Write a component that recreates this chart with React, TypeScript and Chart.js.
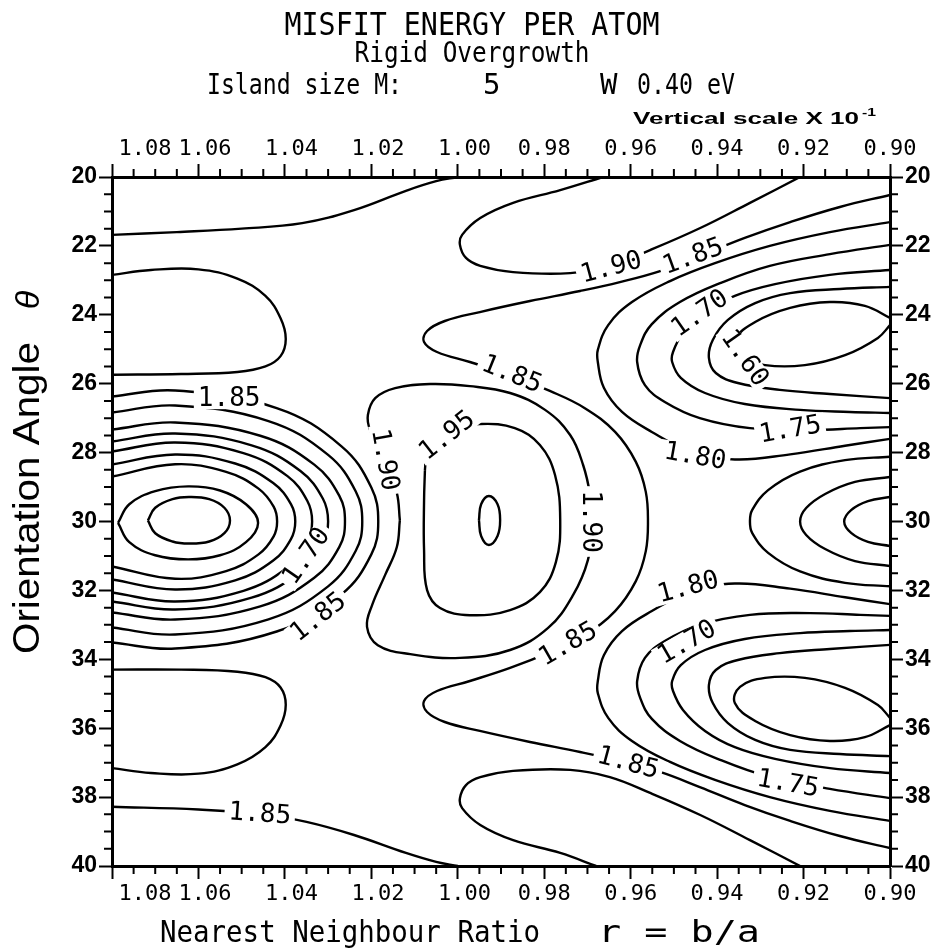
import React, { useEffect, useRef } from "react";
import { Chart, registerables } from "chart.js";

Chart.register(...registerables);

type P = [number, number];

// ---------- axes ----------
const X_TICKS = [0.9, 0.92, 0.94, 0.96, 0.98, 1.0, 1.02, 1.04, 1.06, 1.08];
const Y_TICKS = [20, 22, 24, 26, 28, 30, 32, 34, 36, 38, 40];
const X_MIN = 0.9;
const X_MAX = 1.08;
const Y_MIN = 20;
const Y_MAX = 40;
const X_MINOR = 0.005;
const Y_MINOR = 0.5;

// ---------- contour lines (x = r, y = theta) ----------
const TOP_LEFT_LINE: P[] = [[1.08, 21.68], [1.065, 21.6], [1.05, 21.5], [1.036, 21.34], [1.024, 20.96], [1.012, 20.4], [1.005, 20.12], [1.0, 20.0]];
const BOTTOM_LEFT_LINE: P[] = [[1.08, 38.28], [1.06, 38.36], [1.045, 38.5], [1.035, 38.72], [1.024, 39.1], [1.012, 39.62], [1.005, 39.88], [1.0, 40.0]];
const UPPER_LEFT_U: P[] = [[1.08, 22.84], [1.071, 22.7], [1.06, 22.68], [1.051, 22.95], [1.0445, 23.45], [1.041, 24.1], [1.0398, 24.7], [1.041, 25.2], [1.0445, 25.5], [1.051, 25.66], [1.064, 25.72], [1.08, 25.74]];
const LOWER_LEFT_U: P[] = [[1.08, 34.3], [1.064, 34.3], [1.051, 34.36], [1.0445, 34.52], [1.041, 34.82], [1.0398, 35.32], [1.041, 35.92], [1.0445, 36.55], [1.051, 37.05], [1.06, 37.32], [1.071, 37.3], [1.08, 37.16]];

const LEFT_R1: P[] = [[1.0717, 29.97], [1.07, 29.6], [1.066, 29.35], [1.0622, 29.29], [1.0575, 29.35], [1.054, 29.6], [1.0527, 29.97], [1.054, 30.34], [1.0575, 30.58], [1.0622, 30.64], [1.066, 30.58], [1.07, 30.34], [1.0717, 29.97]];
const LEFT_R2: P[] = [[1.0786, 30.04], [1.076, 29.5], [1.07, 29.12], [1.0624, 28.98], [1.055, 29.1], [1.049, 29.5], [1.0462, 30.04], [1.049, 30.6], [1.055, 30.98], [1.0624, 31.1], [1.07, 30.98], [1.076, 30.6], [1.0786, 30.04]];
const LEFT_R3: P[] = [[1.08, 28.694], [1.0654, 28.337], [1.0536, 28.56], [1.0461, 29.045], [1.0426, 29.569], [1.0418, 30.0], [1.0426, 30.431], [1.0461, 30.955], [1.0536, 31.44], [1.0654, 31.663], [1.08, 31.306]];
const LEFT_R4: P[] = [[1.08, 28.345], [1.0654, 28.055], [1.0515, 28.316], [1.0427, 28.884], [1.0386, 29.496], [1.0376, 30.0], [1.0386, 30.511], [1.0427, 31.133], [1.0515, 31.709], [1.0654, 31.974], [1.08, 31.684]];
const LEFT_R5: P[] = [[1.08, 27.968], [1.0654, 27.707], [1.0496, 28.014], [1.0394, 28.684], [1.0348, 29.406], [1.0337, 30.0], [1.0348, 30.601], [1.0394, 31.333], [1.0496, 32.011], [1.0654, 32.322], [1.08, 32.061]];
const LEFT_R6: P[] = [[1.08, 27.678], [1.0654, 27.446], [1.0477, 27.788], [1.0364, 28.534], [1.0312, 29.339], [1.03, 30.0], [1.0312, 30.661], [1.0364, 31.466], [1.0477, 32.212], [1.0654, 32.554], [1.08, 32.322]];
const LEFT_R7: P[] = [[1.08, 27.329], [1.0654, 27.126], [1.0457, 27.511], [1.0332, 28.35], [1.0274, 29.256], [1.0261, 30.0], [1.0274, 30.737], [1.0332, 31.633], [1.0457, 32.464], [1.0654, 32.845], [1.08, 32.641]];
const LEFT_R8: P[] = [[1.08, 26.836], [1.0654, 26.633], [1.0438, 27.084], [1.03, 28.067], [1.0236, 29.128], [1.0221, 30.0], [1.0236, 30.85], [1.03, 31.883], [1.0438, 32.84], [1.0654, 33.28], [1.08, 33.077]];
const LEFT_R9: P[] = [[1.08, 26.372], [1.0654, 26.197], [1.0419, 26.707], [1.0269, 27.817], [1.02, 29.015], [1.0184, 30.0], [1.02, 30.955], [1.0269, 32.115], [1.0419, 33.193], [1.0654, 33.687], [1.08, 33.512]];

const CENTER_190: P[] = [[1.0134, 29.96], [1.0141, 29.17], [1.0168, 28.22], [1.0203, 27.34], [1.0208, 26.91], [1.0191, 26.42], [1.0145, 26.13], [1.0064, 26.01], [0.9972, 26.07], [0.9879, 26.27], [0.9798, 26.76], [0.974, 27.49], [0.971, 28.36], [0.9694, 29.23], [0.9689, 30.1], [0.9699, 31.12], [0.9733, 32.13], [0.9791, 33.09], [0.9879, 33.73], [0.9995, 33.96], [1.011, 33.85], [1.0185, 33.59], [1.021, 33.06], [1.0198, 32.42], [1.0168, 31.55], [1.0141, 30.74], [1.0134, 29.96]];
const CENTER_195: P[] = [[1.0076, 28.51], [1.0069, 27.78], [1.0029, 27.34], [0.9948, 27.17], [0.9868, 27.29], [0.981, 27.78], [0.9775, 28.65], [0.9763, 29.96], [0.9773, 31.18], [0.981, 32.05], [0.9879, 32.57], [0.9972, 32.72], [1.0041, 32.51], [1.0071, 31.99], [1.0078, 30.83], [1.0078, 29.38], [1.0076, 28.51]];
const CENTER_200: P[] = [[0.9951, 29.96], [0.9946, 29.5], [0.9928, 29.26], [0.9908, 29.5], [0.9902, 29.96], [0.9908, 30.42], [0.9928, 30.68], [0.9946, 30.42], [0.9951, 29.96]];

const TOP_190: P[] = [[0.9664, 20.0], [0.9763, 20.38], [0.9872, 20.75], [0.9948, 21.19], [0.999, 21.68], [0.9995, 21.97], [0.9981, 22.35], [0.9948, 22.58], [0.9872, 22.76], [0.974, 22.79], [0.9648, 22.58], [0.9555, 22.12], [0.9439, 21.48], [0.9324, 20.75], [0.9208, 20.0]];
const BOTTOM_190: P[] = [[0.968, 40.0], [0.9763, 39.62], [0.9872, 39.25], [0.9948, 38.81], [0.999, 38.32], [0.9995, 38.03], [0.9981, 37.65], [0.9948, 37.42], [0.9872, 37.24], [0.974, 37.21], [0.9648, 37.42], [0.9555, 37.88], [0.9439, 38.52], [0.9324, 39.25], [0.9208, 40.0]];

const LINE_185: P[] = [[0.9, 20.52], [0.9116, 20.87], [0.9231, 21.31], [0.9336, 21.77], [0.944, 22.29], [0.9532, 22.73], [0.9625, 23.05], [0.9717, 23.31], [0.9833, 23.6], [0.9949, 23.92], [1.003, 24.18], [1.0071, 24.47], [1.0078, 24.79], [1.0048, 25.08], [0.9972, 25.37], [0.9879, 25.75], [0.9787, 26.21], [0.9706, 26.71], [0.9636, 27.4], [0.9588, 28.27], [0.9565, 29.14], [0.956, 30.0], [0.9565, 30.86], [0.9588, 31.73], [0.9636, 32.6], [0.9706, 33.29], [0.9787, 33.79], [0.9879, 34.25], [0.9972, 34.63], [1.0048, 34.92], [1.0078, 35.21], [1.0071, 35.53], [1.003, 35.82], [0.9949, 36.08], [0.9833, 36.4], [0.9717, 36.69], [0.9625, 36.95], [0.9532, 37.27], [0.944, 37.71], [0.9336, 38.23], [0.9231, 38.69], [0.9116, 39.13], [0.9, 39.48]];

const UR_180: P[] = [[0.9, 21.31], [0.9139, 21.6], [0.9278, 22.0], [0.9405, 22.5], [0.9509, 23.02], [0.9597, 23.63], [0.9652, 24.3], [0.9676, 25.02], [0.9676, 25.37], [0.9662, 26.12], [0.962, 26.82], [0.9551, 27.4], [0.9463, 27.95], [0.9359, 28.2], [0.9231, 28.05], [0.9104, 27.8], [0.9, 27.6]];
const UR_175: P[] = [[0.9, 21.97], [0.9139, 22.24], [0.9278, 22.58], [0.9393, 23.08], [0.9486, 23.63], [0.9551, 24.27], [0.9578, 24.88], [0.9585, 25.37], [0.9567, 26.04], [0.9521, 26.53], [0.944, 27.0], [0.9324, 27.29], [0.9185, 27.34], [0.9069, 27.29], [0.9, 27.26]];
const UR_170: P[] = [[0.9, 22.7], [0.9139, 22.84], [0.9266, 23.11], [0.9359, 23.45], [0.9428, 23.92], [0.9479, 24.53], [0.9502, 25.08], [0.9504, 25.37], [0.9484, 25.83], [0.9428, 26.27], [0.9336, 26.59], [0.9208, 26.76], [0.9093, 26.82], [0.9, 26.85]];
const UR_165: P[] = [[0.9, 23.19], [0.9116, 23.25], [0.9231, 23.37], [0.9312, 23.66], [0.9375, 24.15], [0.941, 24.73], [0.9419, 25.25], [0.9403, 25.69], [0.9352, 25.98], [0.9255, 26.18], [0.9139, 26.3], [0.9, 26.42]];
const UR_160: P[] = [[0.9, 24.09], [0.9058, 23.74], [0.9139, 23.63], [0.9231, 23.8], [0.9312, 24.21], [0.9359, 24.73], [0.9347, 25.2], [0.9289, 25.46], [0.9197, 25.46], [0.9104, 25.17], [0.9028, 24.67], [0.9, 24.3]];

const LR_180: P[] = [[0.9, 38.69], [0.9139, 38.4], [0.9278, 38.0], [0.9405, 37.5], [0.9509, 36.98], [0.9597, 36.37], [0.9652, 35.7], [0.9676, 34.98], [0.9676, 34.63], [0.9662, 33.88], [0.962, 33.18], [0.9551, 32.6], [0.9463, 32.05], [0.9359, 31.8], [0.9231, 31.95], [0.9104, 32.2], [0.9, 32.4]];
const LR_175: P[] = [[0.9, 38.03], [0.9139, 37.76], [0.9278, 37.42], [0.9393, 36.92], [0.9486, 36.37], [0.9551, 35.73], [0.9578, 35.12], [0.9585, 34.63], [0.9567, 33.96], [0.9521, 33.47], [0.944, 33.0], [0.9324, 32.71], [0.9185, 32.66], [0.9069, 32.71], [0.9, 32.74]];
const LR_170: P[] = [[0.9, 37.3], [0.9139, 37.16], [0.9266, 36.89], [0.9359, 36.55], [0.9428, 36.08], [0.9479, 35.47], [0.9502, 34.92], [0.9504, 34.63], [0.9484, 34.17], [0.9428, 33.73], [0.9336, 33.41], [0.9208, 33.24], [0.9093, 33.18], [0.9, 33.15]];
const LR_165: P[] = [[0.9, 36.81], [0.9116, 36.75], [0.9231, 36.63], [0.9312, 36.34], [0.9375, 35.85], [0.941, 35.27], [0.9419, 34.75], [0.9403, 34.31], [0.9352, 34.02], [0.9255, 33.82], [0.9139, 33.7], [0.9, 33.58]];
const LR_160: P[] = [[0.9, 35.91], [0.9058, 36.26], [0.9139, 36.37], [0.9231, 36.2], [0.9312, 35.79], [0.9359, 35.27], [0.9347, 34.8], [0.9289, 34.54], [0.9197, 34.54], [0.9104, 34.83], [0.9028, 35.33], [0.9, 35.7]];

const MR_OUTER: P[] = [[0.9, 28.12], [0.9104, 28.22], [0.9208, 28.55], [0.9282, 29.09], [0.9319, 29.67], [0.9324, 30.0], [0.9319, 30.33], [0.9282, 30.91], [0.9208, 31.45], [0.9104, 31.78], [0.9, 31.88]];
const MR_MID: P[] = [[0.9, 28.71], [0.9081, 28.85], [0.915, 29.2], [0.9194, 29.61], [0.9208, 30.0], [0.9194, 30.39], [0.915, 30.8], [0.9081, 31.15], [0.9, 31.29]];
const MR_INNER: P[] = [[0.9, 29.29], [0.9051, 29.41], [0.909, 29.67], [0.9106, 30.0], [0.909, 30.33], [0.9051, 30.59], [0.9, 30.71]];

const CONTOURS: P[][] = [
  TOP_LEFT_LINE, BOTTOM_LEFT_LINE, UPPER_LEFT_U, LOWER_LEFT_U,
  LEFT_R1, LEFT_R2, LEFT_R3, LEFT_R4, LEFT_R5, LEFT_R6, LEFT_R7, LEFT_R8, LEFT_R9,
  CENTER_190, CENTER_195, CENTER_200, TOP_190, BOTTOM_190, LINE_185,
  UR_180, UR_175, UR_170, UR_165, UR_160,
  LR_180, LR_175, LR_170, LR_165, LR_160,
  MR_OUTER, MR_MID, MR_INNER,
];

// ---------- contour labels: [text, x, y, angle in degrees] ----------
const LABELS: [string, number, number, number][] = [
  ["1.85", 1.0529, 26.42, 0],
  ["1.85", 1.0323, 32.77, -38],
  ["1.70", 1.0351, 31.0, -55],
  ["1.90", 1.0168, 28.21, 80],
  ["1.95", 1.0025, 27.5, -38],
  ["1.90", 0.9692, 30.0, 90],
  ["1.90", 0.9645, 22.62, -15],
  ["1.85", 0.9456, 22.3, -20],
  ["1.70", 0.944, 23.95, -35],
  ["1.60", 0.9336, 25.25, 55],
  ["1.75", 0.9231, 27.33, -10],
  ["1.80", 0.9451, 28.1, 10],
  ["1.85", 0.9875, 25.72, 22],
  ["1.85", 0.9745, 33.55, -30],
  ["1.80", 0.9467, 31.9, -15],
  ["1.70", 0.947, 33.5, -30],
  ["1.85", 0.9606, 37.0, 15],
  ["1.75", 0.9236, 37.6, 10],
  ["1.85", 1.0458, 38.48, 4],
];

// leading spaces that set a tick label off to the right of its tick, as in the reference
const X_LABEL_SHIFT: Record<string, string> = { "1.08": "     ", "1.06": " ", "1.04": " ", "1.02": " ", "1.00": " " };

const MONO = '"DejaVu Sans Mono", monospace';

function drawText(
  ctx: CanvasRenderingContext2D,
  s: string,
  x: number,
  y: number,
  font: string,
  align: CanvasTextAlign,
  width?: number,
  rotate?: number
) {
  ctx.save();
  ctx.translate(x, y);
  if (rotate) ctx.rotate(rotate);
  ctx.font = font;
  ctx.textAlign = align;
  ctx.textBaseline = "alphabetic";
  ctx.fillStyle = "#000";
  if (width) {
    const w = ctx.measureText(s).width;
    ctx.scale(width / w, 1);
  }
  ctx.fillText(s, 0, 0);
  ctx.restore();
}

const minorTicks = {
  id: "minorTicks",
  afterDraw(chart: any) {
    const ctx: CanvasRenderingContext2D = chart.ctx;
    const { left, right, top, bottom } = chart.chartArea;
    const xs = chart.scales.x;
    const ys = chart.scales.y;
    ctx.save();
    ctx.strokeStyle = "#000";
    ctx.lineWidth = 2;
    const nx = Math.round((X_MAX - X_MIN) / X_MINOR);
    for (let i = 0; i <= nx; i++) {
      if (i % 4 === 0) continue;
      const px = xs.getPixelForValue(X_MIN + i * X_MINOR);
      ctx.beginPath();
      ctx.moveTo(px, top);
      ctx.lineTo(px, top - 8);
      ctx.moveTo(px, bottom);
      ctx.lineTo(px, bottom + 8);
      ctx.stroke();
    }
    const ny = Math.round((Y_MAX - Y_MIN) / Y_MINOR);
    for (let i = 0; i <= ny; i++) {
      if (i % 4 === 0) continue;
      const py = ys.getPixelForValue(Y_MIN + i * Y_MINOR);
      ctx.beginPath();
      ctx.moveTo(left, py);
      ctx.lineTo(left - 8, py);
      ctx.moveTo(right, py);
      ctx.lineTo(right + 8, py);
      ctx.stroke();
    }
    ctx.restore();
  },
};

const contourLabels = {
  id: "contourLabels",
  afterDatasetsDraw(chart: any) {
    const ctx: CanvasRenderingContext2D = chart.ctx;
    const xs = chart.scales.x;
    const ys = chart.scales.y;
    ctx.save();
    ctx.font = `26px ${MONO}`;
    ctx.textAlign = "center";
    ctx.textBaseline = "middle";
    for (const [t, x, y, a] of LABELS) {
      const px = xs.getPixelForValue(x);
      const py = ys.getPixelForValue(y);
      const w = ctx.measureText(t).width;
      ctx.save();
      ctx.translate(px, py);
      ctx.rotate((a * Math.PI) / 180);
      ctx.fillStyle = "#fff";
      ctx.fillRect(-w / 2 - 4, -11, w + 8, 22);
      ctx.fillStyle = "#000";
      ctx.fillText(t, 0, 1);
      ctx.restore();
    }
    ctx.restore();
  },
};

const headings = {
  id: "headings",
  afterDraw(chart: any) {
    const ctx: CanvasRenderingContext2D = chart.ctx;
    drawText(ctx, "MISFIT ENERGY PER ATOM", 472, 35, `32px ${MONO}`, "center", 375);
    drawText(ctx, "Rigid Overgrowth", 472, 62, `29px ${MONO}`, "center", 235);
    drawText(ctx, "Island size M:", 207, 94, `29px ${MONO}`, "left", 195);
    drawText(ctx, "5", 483, 94, `29px ${MONO}`, "left");
    drawText(ctx, "W", 600, 94, `29px ${MONO}`, "left");
    drawText(ctx, "0.40 eV", 637, 94, `29px ${MONO}`, "left", 98);
    drawText(ctx, "Vertical scale X 10", 633, 124, 'bold 16px "Liberation Sans", sans-serif', "left", 226);
    drawText(ctx, "-1", 862, 116, 'bold 10px "Liberation Sans", sans-serif', "left", 14);
    // y axis title
    drawText(ctx, "Orientation Angle", 39, 498, '36px "Liberation Sans", sans-serif', "center", 312, -Math.PI / 2);
    drawText(ctx, "θ", 39, 300, 'italic 34px "Liberation Sans", sans-serif', "center", undefined, -Math.PI / 2);
    // x axis title
    drawText(ctx, "Nearest Neighbour Ratio", 160, 942, `30px ${MONO}`, "left", 380);
    drawText(ctx, "r = b/a", 598, 942, `30px ${MONO}`, "left", 162);
  },
};

function xAxis(position: "top" | "bottom", size: number) {
  return {
    type: "linear" as const,
    position,
    min: X_MIN,
    max: X_MAX,
    reverse: true,
    border: { display: true, width: 3, color: "#000" },
    grid: { display: true, drawOnChartArea: false, drawTicks: true, tickLength: 13, tickWidth: 2, tickColor: "#000" },
    ticks: {
      color: "#000",
      font: { family: "DejaVu Sans Mono", size: 22 },
      padding: 2,
      autoSkip: false,
      maxRotation: 0,
      callback: (v: any) => {
        const s = Number(v).toFixed(2);
        return (X_LABEL_SHIFT[s] || "") + s;
      },
    },
    afterBuildTicks: (scale: any) => {
      scale.ticks = X_TICKS.map((v) => ({ value: v }));
    },
    afterFit: (scale: any) => {
      scale.height = size;
    },
  };
}

function yAxis(position: "left" | "right", size: number) {
  return {
    type: "linear" as const,
    position,
    min: Y_MIN,
    max: Y_MAX,
    reverse: true,
    border: { display: true, width: 3, color: "#000" },
    grid: { display: true, drawOnChartArea: false, drawTicks: true, tickLength: 13, tickWidth: 2, tickColor: "#000" },
    ticks: {
      color: "#000",
      font: { family: "Liberation Sans", size: 23, weight: "bold" as const },
      padding: 2,
      autoSkip: false,
      callback: (v: any) => String(Number(v)),
    },
    afterBuildTicks: (scale: any) => {
      scale.ticks = Y_TICKS.map((v) => ({ value: v }));
    },
    afterFit: (scale: any) => {
      scale.width = size;
    },
  };
}

export default function App() {
  const ref = useRef<HTMLCanvasElement>(null);
  useEffect(() => {
    document.body.style.margin = "0";
    const canvas = ref.current!;
    const chart = new Chart(canvas, {
      type: "line",
      data: {
        datasets: CONTOURS.map((c) => ({
          data: c.map(([x, y]) => ({ x, y })),
          borderColor: "#000",
          borderWidth: 2.4,
          pointRadius: 0,
          tension: 0.4,
          fill: false,
          xAxisID: "x",
          yAxisID: "y",
        })),
      },
      options: {
        animation: false,
        responsive: false,
        devicePixelRatio: 1,
        events: [],
        layout: { padding: 0 },
        plugins: { legend: { display: false }, tooltip: { enabled: false }, title: { display: false } },
        scales: {
          x: xAxis("bottom", 84),
          x2: xAxis("top", 177),
          y: yAxis("left", 112),
          y2: yAxis("right", 53),
        },
      },
      plugins: [minorTicks, contourLabels, headings],
    } as any);
    return () => chart.destroy();
  }, []);
  return (
    <div style={{ width: 943, height: 950, background: "#fff" }}>
      <canvas ref={ref} width={943} height={950} style={{ display: "block", width: 943, height: 950 }} />
    </div>
  );
}
